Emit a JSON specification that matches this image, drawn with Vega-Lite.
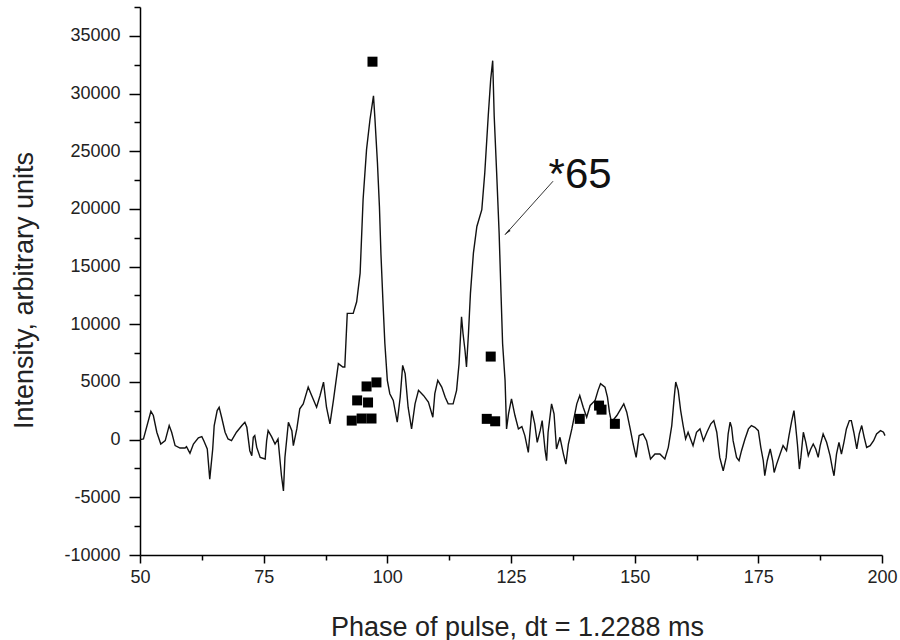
{
  "$schema": "https://vega.github.io/schema/vega-lite/v6.json",
  "width": 742,
  "height": 548,
  "autosize": {"type": "none"},
  "padding": {"left": 140, "top": 7, "right": 18, "bottom": 85},
  "background": "white",
  "config": {
    "view": {"stroke": null},
    "axis": {
      "grid": false,
      "domainColor": "#000",
      "domainWidth": 1.5,
      "tickColor": "#000",
      "tickWidth": 1.5,
      "labelFont": "Liberation Sans",
      "labelColor": "#222",
      "titleFont": "Liberation Sans",
      "titleFontWeight": "normal",
      "titleColor": "#222"
    }
  },
  "datasets": {
    "line": [
      {"x": 50.0, "y": 0}, {"x": 50.7, "y": 60}, {"x": 52.2, "y": 2460}, {"x": 52.7, "y": 2090}, {"x": 53.4, "y": 640}, {"x": 54.2, "y": -380}, {"x": 55.1, "y": -90}, {"x": 55.9, "y": 1220}, {"x": 56.4, "y": 640}, {"x": 57.1, "y": -520}, {"x": 58.1, "y": -730}, {"x": 59.1, "y": -730}, {"x": 59.4, "y": -610}, {"x": 60.1, "y": -1190}, {"x": 60.8, "y": -380}, {"x": 61.8, "y": 150}, {"x": 62.5, "y": 260}, {"x": 62.9, "y": -90}, {"x": 63.6, "y": -810}, {"x": 64.1, "y": -3420}, {"x": 64.7, "y": -810}, {"x": 65.0, "y": 1220}, {"x": 65.6, "y": 2520}, {"x": 66.0, "y": 2810}, {"x": 66.5, "y": 1940}, {"x": 67.2, "y": 640}, {"x": 67.8, "y": 60}, {"x": 68.5, "y": -90}, {"x": 69.5, "y": 640}, {"x": 70.6, "y": 1220}, {"x": 71.2, "y": 1510}, {"x": 71.6, "y": 1070}, {"x": 72.2, "y": -960}, {"x": 72.6, "y": -1390}, {"x": 72.9, "y": 200}, {"x": 73.2, "y": 350}, {"x": 73.6, "y": -670}, {"x": 74.3, "y": -1540}, {"x": 75.3, "y": -1680}, {"x": 75.6, "y": -90}, {"x": 75.9, "y": 780}, {"x": 76.6, "y": 260}, {"x": 77.3, "y": -380}, {"x": 77.9, "y": 60}, {"x": 78.6, "y": -3130}, {"x": 79.0, "y": -4440}, {"x": 79.3, "y": -1540}, {"x": 80.0, "y": 1510}, {"x": 80.7, "y": 780}, {"x": 81.0, "y": -520}, {"x": 81.7, "y": 930}, {"x": 82.3, "y": 2670}, {"x": 83.0, "y": 3100}, {"x": 84.0, "y": 4550}, {"x": 84.7, "y": 3830}, {"x": 85.7, "y": 2810}, {"x": 86.4, "y": 3830}, {"x": 87.1, "y": 4990}, {"x": 87.7, "y": 2810}, {"x": 88.4, "y": 1370},
      {"x": 89.1, "y": 3400}, {"x": 90.1, "y": 6590}, {"x": 91.0, "y": 6300}, {"x": 91.4, "y": 6300}, {"x": 91.9, "y": 10940}, {"x": 93.1, "y": 10940}, {"x": 93.8, "y": 11950}, {"x": 94.5, "y": 14430}, {"x": 95.1, "y": 20810}, {"x": 95.8, "y": 25160}, {"x": 96.5, "y": 27770}, {"x": 97.2, "y": 29800}, {"x": 97.5, "y": 27770}, {"x": 98.0, "y": 24000}, {"x": 98.4, "y": 20220}, {"x": 98.7, "y": 16170}, {"x": 99.1, "y": 12100}, {"x": 99.5, "y": 8330}, {"x": 100.0, "y": 5140}, {"x": 100.5, "y": 3980}, {"x": 101.2, "y": 3400}, {"x": 102.0, "y": 1510}, {"x": 102.6, "y": 3680}, {"x": 103.1, "y": 6440}, {"x": 103.6, "y": 5720}, {"x": 104.2, "y": 2810}, {"x": 104.9, "y": 930}, {"x": 105.6, "y": 3100}, {"x": 106.3, "y": 4270}, {"x": 107.3, "y": 3830}, {"x": 108.3, "y": 3250}, {"x": 109.2, "y": 1940}, {"x": 109.6, "y": 3980}, {"x": 110.2, "y": 5140}, {"x": 111.0, "y": 4550}, {"x": 111.7, "y": 3680}, {"x": 112.3, "y": 3100}, {"x": 113.3, "y": 3100}, {"x": 114.0, "y": 4270}, {"x": 114.5, "y": 6590}, {"x": 115.0, "y": 10650}, {"x": 115.3, "y": 9200}, {"x": 115.7, "y": 7750}, {"x": 116.0, "y": 6300}, {"x": 116.4, "y": 9200}, {"x": 116.8, "y": 12680}, {"x": 117.4, "y": 16170}, {"x": 118.1, "y": 18480}, {"x": 119.1, "y": 19940}, {"x": 119.7, "y": 23130}, {"x": 120.4, "y": 28070}, {"x": 120.9, "y": 31250}, {"x": 121.3, "y": 32850}, {"x": 121.6, "y": 28070}, {"x": 122.1, "y": 23130}, {"x": 122.6, "y": 17910}, {"x": 123.0, "y": 12390}, {"x": 123.3, "y": 8330}, {"x": 123.8, "y": 5140}, {"x": 124.1, "y": 930},
      {"x": 124.5, "y": 2240}, {"x": 125.1, "y": 3540}, {"x": 125.8, "y": 2090}, {"x": 126.5, "y": 930}, {"x": 127.2, "y": 1130}, {"x": 127.8, "y": 350}, {"x": 128.5, "y": -1100}, {"x": 129.2, "y": 2520}, {"x": 129.8, "y": 1370}, {"x": 130.3, "y": -230}, {"x": 130.9, "y": 780}, {"x": 131.3, "y": 1650}, {"x": 131.9, "y": -960}, {"x": 132.2, "y": -1830}, {"x": 132.5, "y": 640}, {"x": 133.2, "y": 3100}, {"x": 133.7, "y": 2240}, {"x": 134.2, "y": -810}, {"x": 134.9, "y": 200}, {"x": 135.6, "y": -1250}, {"x": 136.1, "y": -2120}, {"x": 136.6, "y": -380}, {"x": 137.3, "y": 930}, {"x": 138.3, "y": 3100}, {"x": 138.9, "y": 3830}, {"x": 139.6, "y": 2810}, {"x": 140.3, "y": 1940}, {"x": 141.0, "y": 2960}, {"x": 142.0, "y": 3400}, {"x": 142.6, "y": 4270}, {"x": 143.1, "y": 4850}, {"x": 144.0, "y": 4550}, {"x": 144.5, "y": 3680}, {"x": 144.9, "y": 2380}, {"x": 145.3, "y": 1510}, {"x": 146.4, "y": 2090}, {"x": 147.2, "y": 2670}, {"x": 147.8, "y": 3100}, {"x": 148.4, "y": 2380}, {"x": 149.1, "y": 930}, {"x": 149.7, "y": -380}, {"x": 150.3, "y": -1540}, {"x": 150.9, "y": 350}, {"x": 151.7, "y": 500}, {"x": 152.4, "y": -90}, {"x": 153.2, "y": -1680}, {"x": 154.1, "y": -1250}, {"x": 155.1, "y": -1250}, {"x": 156.1, "y": -1680}, {"x": 156.8, "y": -670}, {"x": 157.5, "y": 1220}, {"x": 158.0, "y": 3680}, {"x": 158.3, "y": 4990}, {"x": 158.8, "y": 4270},
      {"x": 159.3, "y": 2520}, {"x": 159.8, "y": 1220}, {"x": 160.3, "y": 60}, {"x": 160.8, "y": 640}, {"x": 161.3, "y": 60}, {"x": 161.8, "y": -520}, {"x": 162.5, "y": 640}, {"x": 163.2, "y": 930}, {"x": 163.9, "y": -90}, {"x": 164.6, "y": 640}, {"x": 165.4, "y": 1370}, {"x": 166.0, "y": 1650}, {"x": 166.6, "y": 640}, {"x": 167.2, "y": -1540}, {"x": 167.9, "y": -2700}, {"x": 168.5, "y": -1540}, {"x": 168.9, "y": 500}, {"x": 169.3, "y": 1510}, {"x": 169.6, "y": 1070}, {"x": 169.9, "y": -90}, {"x": 170.6, "y": -1540}, {"x": 171.1, "y": -1830}, {"x": 171.6, "y": -960}, {"x": 172.3, "y": 60}, {"x": 173.0, "y": 930}, {"x": 173.6, "y": 1220}, {"x": 174.3, "y": 1070}, {"x": 175.0, "y": 780}, {"x": 175.5, "y": -670}, {"x": 176.0, "y": -1830}, {"x": 176.3, "y": -3130}, {"x": 176.8, "y": -1830}, {"x": 177.4, "y": -810}, {"x": 177.9, "y": -1830}, {"x": 178.2, "y": -2850}, {"x": 178.7, "y": -2120}, {"x": 179.4, "y": -1250}, {"x": 180.0, "y": -520}, {"x": 180.7, "y": -960}, {"x": 181.2, "y": 350}, {"x": 181.7, "y": 1510}, {"x": 182.2, "y": 2520}, {"x": 182.5, "y": 1370}, {"x": 182.9, "y": -380}, {"x": 183.3, "y": -2550}, {"x": 183.6, "y": -1540}, {"x": 184.1, "y": 640}, {"x": 184.6, "y": -230}, {"x": 185.1, "y": -1390}, {"x": 185.6, "y": -810}, {"x": 186.1, "y": -380}, {"x": 186.6, "y": -810}, {"x": 187.1, "y": -1540}, {"x": 187.5, "y": -520}, {"x": 188.1, "y": 500}, {"x": 188.8, "y": -230}, {"x": 189.5, "y": -1390}, {"x": 190.0, "y": -2550}, {"x": 190.3, "y": -3130}, {"x": 190.8, "y": -1250}, {"x": 191.3, "y": -230}, {"x": 191.8, "y": -1250}, {"x": 192.3, "y": -230}, {"x": 192.8, "y": 930}, {"x": 193.4, "y": 1650}, {"x": 193.8, "y": 1650}, {"x": 194.3, "y": 640}, {"x": 194.9, "y": -810}, {"x": 195.4, "y": 500}, {"x": 195.9, "y": 1220}, {"x": 196.4, "y": 200}, {"x": 196.9, "y": -670}, {"x": 197.6, "y": -520}, {"x": 198.3, "y": -90}, {"x": 198.9, "y": 500}, {"x": 199.7, "y": 780}, {"x": 200.3, "y": 640}, {"x": 200.6, "y": 350}
    ],
    "squares": [
      {"x": 97.0, "y": 32760}, {"x": 92.8, "y": 1650}, {"x": 94.8, "y": 1830}, {"x": 96.8, "y": 1830}, {"x": 93.9, "y": 3400}, {"x": 96.1, "y": 3220}, {"x": 95.8, "y": 4610}, {"x": 97.8, "y": 4960},
      {"x": 120.9, "y": 7200}, {"x": 120.1, "y": 1800}, {"x": 121.8, "y": 1590},
      {"x": 138.9, "y": 1800}, {"x": 142.8, "y": 2950}, {"x": 143.3, "y": 2600}, {"x": 146.0, "y": 1370}
    ],
    "arrow": [{"x": 133.5, "y": 22400, "x2": 123.8, "y2": 17760}],
    "head": [{"x": 124.4, "y": 18020}],
    "label": [{"x": 132.6, "y": 21850, "text": "*65"}]
  },
  "encoding": {
    "x": {
      "field": "x",
      "type": "quantitative",
      "scale": {"domain": [50, 200], "nice": false, "zero": false},
      "axis": {
        "values": [50, 62.5, 75, 87.5, 100, 112.5, 125, 137.5, 150, 162.5, 175, 187.5, 200],
        "labelExpr": "datum.value % 25 === 0 ? datum.label : ''",
        "tickSize": {"condition": {"test": "datum.value % 25 === 0", "value": 8}, "value": 5},
        "labelFontSize": 18,
        "labelPadding": 5,
        "labelFlush": false,
        "title": "Phase of pulse, dt = 1.2288 ms",
        "titleFontSize": 27,
        "titleX": 377,
        "titleY": 72,
        "titleBaseline": "middle",
        "titleAnchor": "middle"
      }
    },
    "y": {
      "field": "y",
      "type": "quantitative",
      "scale": {"domain": [-10000, 37500], "nice": false, "zero": false},
      "axis": {
        "values": [-10000, -7500, -5000, -2500, 0, 2500, 5000, 7500, 10000, 12500, 15000, 17500, 20000, 22500, 25000, 27500, 30000, 32500, 35000, 37500],
        "labelExpr": "datum.value % 5000 === 0 ? toString(datum.value) : ''",
        "tickSize": {"condition": {"test": "datum.value % 5000 === 0", "value": 11}, "value": 6},
        "labelFontSize": 18,
        "labelPadding": 9,
        "labelFlush": false,
        "title": "Intensity, arbitrary units",
        "titleFontSize": 27,
        "titleX": -116,
        "titleY": 283,
        "titleBaseline": "middle",
        "titleAnchor": "middle"
      }
    }
  },
  "layer": [
    {
      "data": {"name": "line"},
      "mark": {"type": "line", "color": "#111", "strokeWidth": 1.4}
    },
    {
      "data": {"name": "squares"},
      "mark": {"type": "point", "shape": "square", "filled": true, "color": "#000", "size": 100, "opacity": 1}
    },
    {
      "data": {"name": "arrow"},
      "mark": {"type": "rule", "color": "#333", "strokeWidth": 1},
      "encoding": {"x2": {"field": "x2"}, "y2": {"field": "y2"}}
    },
    {
      "data": {"name": "head"},
      "mark": {"type": "point", "shape": "wedge", "filled": true, "color": "#222", "size": 70, "angle": 228, "opacity": 1}
    },
    {
      "data": {"name": "label"},
      "mark": {"type": "text", "font": "Liberation Sans", "fontSize": 42, "align": "left", "baseline": "alphabetic", "color": "#111"},
      "encoding": {"text": {"field": "text"}}
    }
  ]
}
